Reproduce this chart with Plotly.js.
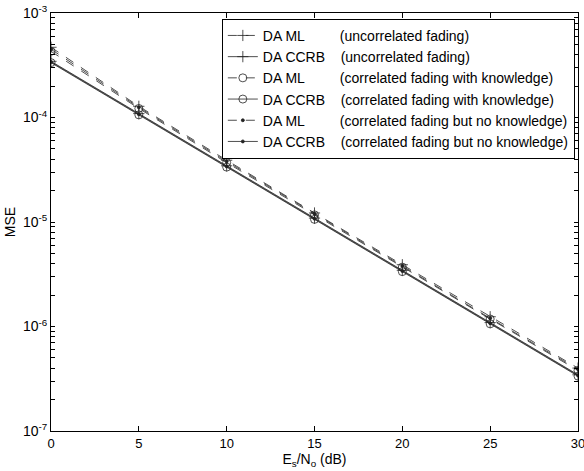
<!DOCTYPE html>
<html><head><meta charset="utf-8">
<script src="https://cdn.plot.ly/plotly-3.0.1.min.js"></script>
<style>body{margin:0;background:#fff}#c{width:584px;height:471px}</style>
</head><body><div id="c"></div>
<script>
const snr = [0, 5, 10, 15, 20, 25, 30];
const mlUncorr   = [4.7e-4, 1.28e-4, 3.9e-5, 1.22e-5, 3.9e-6, 1.24e-6, 4.0e-7];
const ccrbUncorr = [3.45e-4, 1.09e-4, 3.45e-5, 1.09e-5, 3.45e-6, 1.09e-6, 3.45e-7];
const mlKnow     = [4.3e-4, 1.22e-4, 3.7e-5, 1.17e-5, 3.7e-6, 1.18e-6, 3.8e-7];
const ccrbKnow   = [3.35e-4, 1.06e-4, 3.35e-5, 1.06e-5, 3.35e-6, 1.06e-6, 3.35e-7];
const mlNoKnow   = [4.5e-4, 1.25e-4, 3.8e-5, 1.2e-5, 3.8e-6, 1.2e-6, 3.9e-7];
const ccrbNoKnow = [3.4e-4, 1.075e-4, 3.4e-5, 1.075e-5, 3.4e-6, 1.075e-6, 3.4e-7];
const names = [
  "DA ML\u00A0\u00A0\u00A0\u00A0\u00A0\u00A0\u00A0\u00A0\u00A0(uncorrelated fading)",
  "DA CCRB\u00A0\u00A0\u00A0\u00A0(uncorrelated fading)",
  "DA ML\u00A0\u00A0\u00A0\u00A0\u00A0\u00A0\u00A0\u00A0\u00A0(correlated fading with knowledge)",
  "DA CCRB\u00A0\u00A0\u00A0\u00A0(correlated fading with knowledge)",
  "DA ML\u00A0\u00A0\u00A0\u00A0\u00A0\u00A0\u00A0\u00A0\u00A0(correlated fading but no knowledge)",
  "DA CCRB\u00A0\u00A0\u00A0\u00A0(correlated fading but no knowledge)"
];
const xTickVals = [0, 5, 10, 15, 20, 25, 30];
const yTickVals = [];
const yTickText = [];
for (let e = -7; e <= -3; e++) {
  for (let m = 1; m <= 9; m++) {
    if (e === -3 && m > 1) break;
    yTickVals.push(m * Math.pow(10, e));
    yTickText.push(m === 1 ? "10<sup>" + e + "</sup>" : "");
  }
}
const series = [mlUncorr, ccrbUncorr, mlKnow, ccrbKnow, mlNoKnow, ccrbNoKnow];
const dashes = ['dash', 'solid', 'dash', 'solid', 'dash', 'solid'];
const syms = ['cross-thin-open', 'cross-thin-open', 'circle-open', 'circle-open', 'circle', 'circle'];
const sizes = [8, 8, 8, 8, 3, 3];
const traces = series.map((y, i) => ({
  x: snr, y: y, name: names[i], type: 'scatter', mode: 'lines+markers',
  line: {color: '#222', width: 0.8, dash: dashes[i]},
  marker: {symbol: syms[i], size: sizes[i], color: '#222', line: {color: '#222', width: 0.8}}
}));
const font = {family: 'Liberation Sans, Arial, sans-serif', size: 14, color: '#000'};
const layout = {
  width: 584, height: 471,
  margin: {l: 51, r: 6, t: 13, b: 40},
  paper_bgcolor: '#fff', plot_bgcolor: '#fff',
  font: font,
  showlegend: true,
  legend: {x: 0.994, y: 0.986, xanchor: 'right', yanchor: 'top',
           bgcolor: '#fff', bordercolor: '#000', borderwidth: 1,
           font: {family: font.family, size: 14, color: '#000'},
           tracegroupgap: 0, itemwidth: 30},
  xaxis: {range: [0, 30], tickvals: xTickVals, ticks: 'inside', ticklen: 5,
          tickcolor: '#000', showgrid: false, zeroline: false, showline: true, mirror: 'ticks',
          linecolor: '#000', linewidth: 1, tickfont: {size: 13}, ticklabeloverflow: 'allow',
          title: {text: 'E<sub>s</sub>/N<sub>o</sub> (dB)', font: {size: 14}, standoff: 0}},
  yaxis: {type: 'log', range: [-7, -3], tickvals: yTickVals, ticktext: yTickText,
          ticks: 'inside', ticklen: 4, tickcolor: '#000', showgrid: false, zeroline: false,
          showline: true, mirror: 'ticks', linecolor: '#000', linewidth: 1, tickfont: {size: 14},
          title: {text: 'MSE', font: {size: 14}, standoff: 4}}
};
Plotly.newPlot('c', traces, layout, {displayModeBar: false, staticPlot: true});
</script></body></html>
